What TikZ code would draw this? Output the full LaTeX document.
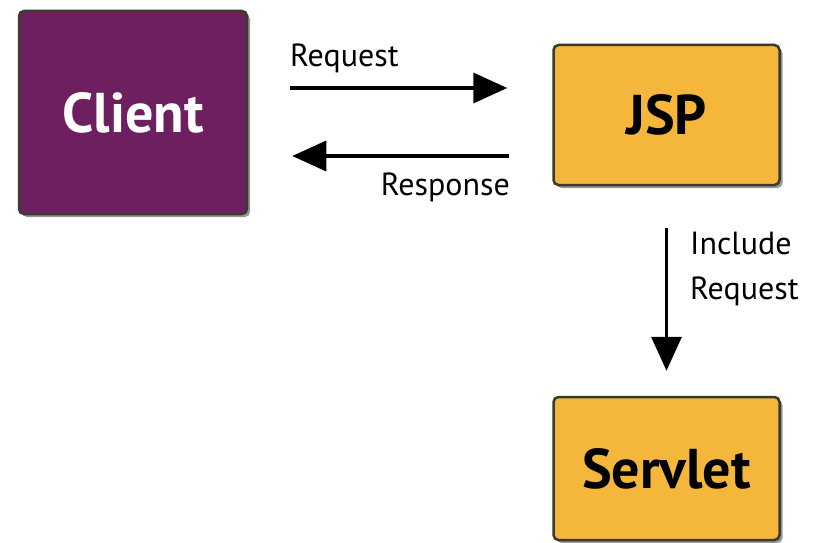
\documentclass[tikz,border=0pt]{standalone}
\usepackage{fontspec}
\setmainfont{PT Sans}
\usetikzlibrary{arrows.meta,positioning,shadows}

\definecolor{clientpurple}{HTML}{6E1F5F}
\definecolor{jspgold}{HTML}{F4B73C}
\definecolor{boxedge}{HTML}{3A3A30}

\begin{document}
\begin{tikzpicture}[x=1pt, y=-1pt,
  box/.style={draw=boxedge, line width=2.5pt, rounded corners=5pt, inner sep=0pt,
    font=\fontsize{56}{60}\selectfont\bfseries,
    drop shadow={shadow xshift=3pt, shadow yshift=-3pt, fill=black!40, opacity=1}},
  arr/.style={-{Triangle[length=34pt,width=30pt]}, line width=3.5pt},
  lbl/.style={font=\fontsize{32}{45}\selectfont, inner sep=0pt}
]
\useasboundingbox (0,0) rectangle (815,543);

\node[box, fill=clientpurple, text=white, minimum width=228pt, minimum height=203pt] (client) at (133,112.5) {Client};
\node[box, fill=jspgold, minimum width=226pt, minimum height=140pt] (jsp) at (666.5,115) {JSP};
\node[box, fill=jspgold, minimum width=226pt, minimum height=143pt] (servlet) at (666.5,468.5) {Servlet};

\draw[arr, shorten <=42pt, shorten >=45pt] ([yshift=24.5pt]client.east) -- ([yshift=27pt]jsp.west);
\draw[arr, shorten <=43pt, shorten >=44pt] ([yshift=-41pt]jsp.west) -- ([yshift=-43.5pt]client.east);
\draw[arr, shorten <=42pt, shorten >=25pt] (jsp.south) -- (servlet.north);

\node[lbl, anchor=base west] (reqlbl) at (290,67) {Request};
\node[lbl, anchor=base east] (resplbl) at (510,195) {Response};
\node[lbl, anchor=north west, align=left] (inclbl) at (690,232) {Include\\Request};
\end{tikzpicture}
\end{document}
